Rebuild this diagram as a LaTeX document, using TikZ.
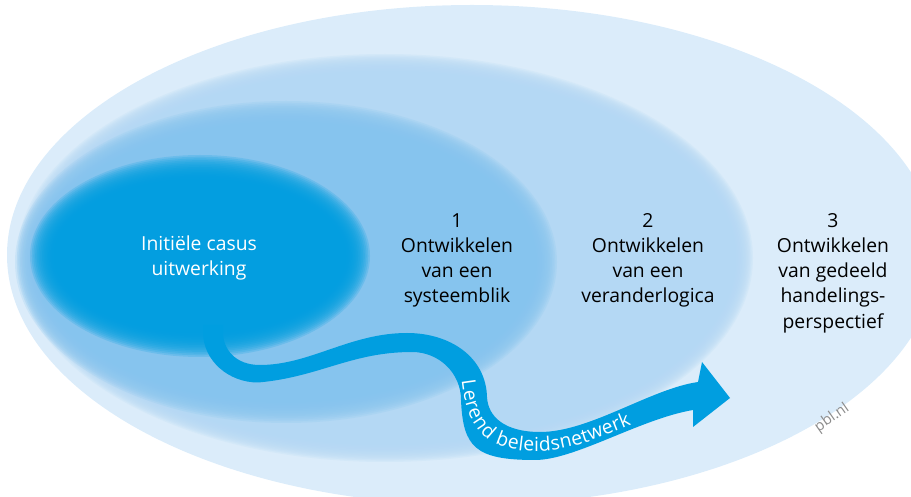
\documentclass[tikz,border=0pt]{standalone}
\usepackage{fontspec}
\setmainfont{Open Sans}
\usetikzlibrary{decorations.text}
\definecolor{outerblue}{HTML}{DBECFA}
\definecolor{midblue}{HTML}{B4D8F4}
\definecolor{thirdblue}{HTML}{86C4EE}
\definecolor{coreblue}{HTML}{009EE0}
\definecolor{creditgrey}{HTML}{8C8C8C}
\tikzset{every picture/.append style={x=0.03cm,y=0.03cm}}
\tikzset{haze/.style={fill=#1, opacity=0.2}}
\tikzset{ribbon/.style={fill=coreblue}}
\tikzset{phase/.style={align=center, inner sep=0pt, anchor=north, font=\fontsize{16.5}{21.5}\selectfont}}
\tikzset{core/.style={phase, text=white}}
\tikzset{credit/.style={text=creditgrey, inner sep=0pt, font=\fontsize{12.5}{14}\selectfont, rotate=35}}
\tikzset{ribbontext/.style={decorate, decoration={text along path, text color=white, raise=-4.5pt,
  text={|\fontsize{16.5}{19}\selectfont|Lerend beleidsnetwerk}}}}

\begin{document}
\begin{tikzpicture}
\useasboundingbox (0,0) rectangle (911,497);
%outer field, sharp edge
\fill[outerblue] (472,242) ellipse (465 and 250);
%the three inner fields with a soft edge
\foreach \k in {0,...,14} \fill[haze=midblue] (385,239) ellipse ({358+10-20*\k/14} and {194+10-20*\k/14});
\foreach \k in {0,...,14} \fill[haze=thirdblue] (286,235) ellipse ({259+12-24*\k/14} and {149+12-24*\k/14});
\foreach \k in {0,...,14} \fill[haze=coreblue] (200,241) ellipse ({158+12-24*\k/14} and {89+12-24*\k/14});
%the learning network
\fill[ribbon] (203,172) -- (203,165) .. controls (203,136) and (229,114.5) .. (258,114.5)
  .. controls (319,119.8) and (351,145) .. (412,145)
  .. controls (439,145) and (461,124) .. (461,97)
  .. controls (463,50) and (475,37) .. (535,37)
  .. controls (575,37) and (640,78) .. (693,87)
  -- (693,70) -- (730,99) -- (702,135) -- (698,115)
  .. controls (650,108) and (590,65) .. (540,65)
  .. controls (505,65) and (488,80) .. (487,100)
  .. controls (486,140) and (450,164) .. (407,164)
  .. controls (350,164) and (310,132) .. (260,132)
  .. controls (235,132) and (223,148) .. (223,165) -- (223,172) -- cycle;
\path[ribbontext] (467,117) .. controls (472,75) and (485,51) .. (537,51)
  .. controls (580,51) and (625,78) .. (690,100);
\node (init) at (199,261.5)[core]{Initiële casus\\uitwerking};
\node (sys) at (457,283.8)[phase]{1\\Ontwikkelen\\van een\\systeemblik};
\node (logic) at (648,283.8)[phase]{2\\Ontwikkelen\\van een\\veranderlogica};
\node (shared) at (833,283.8)[phase]{3\\Ontwikkelen\\van gedeeld\\handelings-\\perspectief};
\node (pbl) at (832,79)[credit]{pbl.nl};
\end{tikzpicture}
\end{document}
